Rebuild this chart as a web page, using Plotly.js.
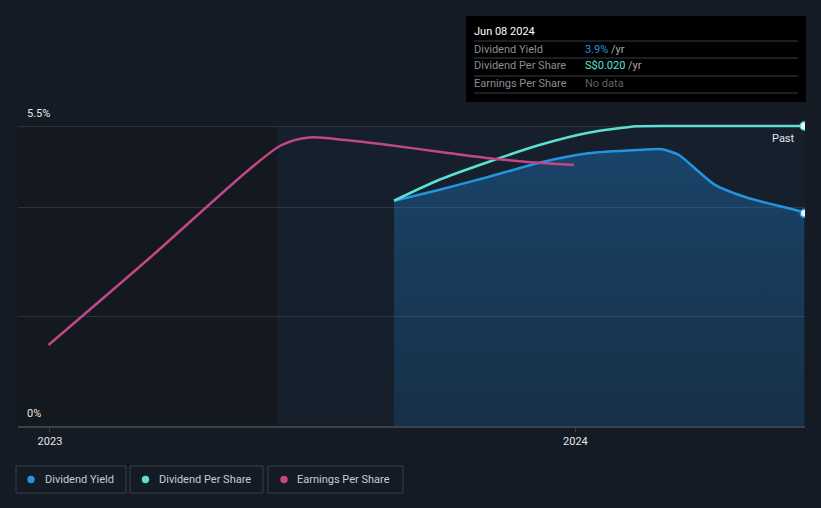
<!DOCTYPE html>
<html>
<head>
<meta charset="utf-8">
<script src="https://cdn.plot.ly/plotly-3.0.1.min.js"></script>
<style>
html,body{margin:0;padding:0;background:#151b25;}
#chart{width:821px;height:508px;}
</style>
</head>
<body>
<div id="chart"></div>
<script>
// Dividend Yield (%)
const yieldDates = ['2023-08-28','2023-09-28','2023-11-02','2023-12-07','2024-01-10','2024-02-13','2024-03-01','2024-03-13','2024-03-20','2024-04-07','2024-04-30','2024-06-06','2024-06-08'];
const yieldValues = [4.13,4.327,4.57,4.827,5.0,5.06,5.073,4.968,4.816,4.42,4.18,3.93,3.9];

// Dividend Per Share (S$)
const dpsDates = ['2023-08-28','2023-09-28','2023-11-02','2023-12-07','2024-01-10','2024-02-13','2024-03-19','2024-06-08'];
const dpsValues = [0.01502,0.0164,0.01762,0.01873,0.01955,0.01998,0.020,0.020];

// Earnings Per Share (S$)
const epsDates = ['2022-12-31','2023-03-11','2023-05-19','2023-06-11','2023-06-30','2023-07-25','2023-08-24','2023-09-28','2023-11-02','2023-12-07','2023-12-31'];
const epsValues = [0.0081,0.01677,0.0256,0.0281,0.02885,0.0286,0.0281,0.02743,0.02677,0.02633,0.0261];

const xTickVals = ['2023-01-01','2024-01-01'];
const xTickText = ['2023','2024'];
const yGrid = [0,2,4,5.5];
const yLabels = ['0%','5.5%'];
const yLabelVals = [0,5.5];
const pastStart = '2023-06-08';
const endDate = '2024-06-08';

const legendNames = ['Dividend Yield','Dividend Per Share','Earnings Per Share'];
const colors = ['#2394df','#5ce0d2','#c2478a'];

const font = 'Roboto, "Open Sans", sans-serif';

const traces = [
  {x: yieldDates, y: yieldValues, type:'scatter', mode:'lines', line:{color:colors[0], width:2.5, shape:'spline', smoothing:0.6},
   fill:'tozeroy', fillcolor:'rgba(33,140,225,0.22)',
   fillgradient:{type:'vertical', start:0, stop:5.06, colorscale:[[0,'rgba(33,150,243,0.13)'],[1,'rgba(33,150,243,0.30)']]},
   hoverinfo:'skip', yaxis:'y'},
  {x: dpsDates, y: dpsValues, type:'scatter', mode:'lines', line:{color:colors[1], width:2.5, shape:'spline', smoothing:0.6},
   hoverinfo:'skip', yaxis:'y2'},
  {x: epsDates, y: epsValues, type:'scatter', mode:'lines', line:{color:colors[2], width:2.5, shape:'spline', smoothing:0.8},
   hoverinfo:'skip', yaxis:'y3'},
  {x: [yieldDates[yieldDates.length-1]], y:[yieldValues[yieldValues.length-1]], type:'scatter', mode:'markers',
   marker:{size:8, color:'#e8f4fb', line:{color:colors[0], width:1.5}}, hoverinfo:'skip', yaxis:'y'},
  {x: [dpsDates[dpsDates.length-1]], y:[dpsValues[dpsValues.length-1]], type:'scatter', mode:'markers',
   marker:{size:8, color:'#e8fbf8', line:{color:colors[1], width:1.5}}, hoverinfo:'skip', yaxis:'y2'}
];

function px(xx){return (xx-18)/787;}
function py(yy){return (426-yy)/310;}

const shapes = [
  {type:'rect', xref:'x', yref:'y', x0:'2022-12-01', x1:pastStart, y0:0, y1:5.5, fillcolor:'#14181f', line:{width:0}, layer:'below'},
  {type:'rect', xref:'x', yref:'y', x0:pastStart, x1:endDate, y0:0, y1:5.5, fillcolor:'#16202d', line:{width:0}, layer:'below'},
  // tooltip box
  {type:'rect', xref:'paper', yref:'paper', x0:px(466), x1:px(806), y0:py(16), y1:py(102), fillcolor:'#000000', line:{width:0}},
];
[41,58,76,93].forEach(yy=>{
  shapes.push({type:'line', xref:'paper', yref:'paper', x0:px(474), x1:px(798), y0:py(yy), y1:py(yy), line:{color:'#3a3d42', width:1}});
});
// legend boxes
const legendBoxes = [[16,126],[130,263],[268,403]];
legendBoxes.forEach(b=>{
  shapes.push({type:'rect', xref:'paper', yref:'paper', x0:px(b[0]), x1:px(b[1]), y0:py(466), y1:py(493),
    fillcolor:'rgba(0,0,0,0)', line:{color:'#3b414b', width:1}});
});
const legendDotX = [31,145.5,284];
const legendTextX = [43,157,295];
legendDotX.forEach((dx,i)=>{
  shapes.push({type:'circle', xref:'paper', yref:'paper', x0:px(dx-3.7), x1:px(dx+3.7), y0:py(479.5-3.7), y1:py(479.5+3.7),
    fillcolor:colors[i], line:{width:0}});
});

const annotations = [];
yLabels.forEach((t,i)=>{
  annotations.push({xref:'paper', yref:'y', x:px(25), y:yLabelVals[i], text:t, showarrow:false, xanchor:'left', yanchor:'bottom', yshift:4,
    font:{family:font, size:11, color:'#e6e6e6'}});
});
annotations.push({xref:'paper', yref:'y', x:px(797), y:5.5, text:'Past', showarrow:false, xanchor:'right', yanchor:'top', yshift:-4,
  font:{family:font, size:11, color:'#e6e6e6'}});
// tooltip text
annotations.push({xref:'paper', yref:'paper', x:px(472), y:py(31), text:'Jun 08 2024', showarrow:false, xanchor:'left', yanchor:'middle', font:{family:font, size:11, color:'#ffffff'}});
const rowLabels = ['Dividend Yield','Dividend Per Share','Earnings Per Share'];
const rowValues = ['<span style="color:#2394df">3.9%</span> <span style="color:#aaaaaa">/yr</span>',
                   '<span style="color:#5ce0d2">S$0.020</span> <span style="color:#aaaaaa">/yr</span>',
                   '<span style="color:#5f6368">No data</span>'];
[49,66,84].forEach((yy,i)=>{
  annotations.push({xref:'paper', yref:'paper', x:px(472), y:py(yy), text:rowLabels[i], showarrow:false, xanchor:'left', yanchor:'middle', font:{family:font, size:11, color:'#8a8d93'}});
  annotations.push({xref:'paper', yref:'paper', x:px(583), y:py(yy), text:rowValues[i], showarrow:false, xanchor:'left', yanchor:'middle', font:{family:font, size:11, color:'#aaaaaa'}});
});
// legend items
legendNames.forEach((n,i)=>{
  annotations.push({xref:'paper', yref:'paper', x:px(legendTextX[i]), y:py(479.5), text:n,
    showarrow:false, xanchor:'left', yanchor:'middle', font:{family:font, size:11, color:'#c8cbd0'}});
});

const layout = {
  width:821, height:508,
  paper_bgcolor:'#151b25', plot_bgcolor:'#151b25',
  margin:{l:18, r:16, t:116, b:82},
  showlegend:false,
  xaxis:{type:'date', range:['2022-12-09 19:00','2024-06-08 12:00'], tickvals:xTickVals, ticktext:xTickText,
    showgrid:false, zeroline:false, showline:true, linecolor:'#3c424b', linewidth:1.5,
    ticks:'outside', ticklen:4, tickcolor:'#3c424b', tickfont:{family:font, size:11, color:'#e6e6e6'}, fixedrange:true},
  yaxis:{range:[0,5.5*310/300], tickvals:yGrid, showticklabels:false, showgrid:true, gridcolor:'rgba(90,100,115,0.35)', gridwidth:1,
    zeroline:false, fixedrange:true},
  yaxis2:{range:[0,0.020*310/300], overlaying:'y', showgrid:false, showticklabels:false, zeroline:false},
  yaxis3:{range:[0,0.030*310/300], overlaying:'y', showgrid:false, showticklabels:false, zeroline:false},
  shapes:shapes,
  annotations:annotations
};

Plotly.newPlot('chart', traces, layout, {displayModeBar:false, staticPlot:true});
</script>
</body>
</html>
